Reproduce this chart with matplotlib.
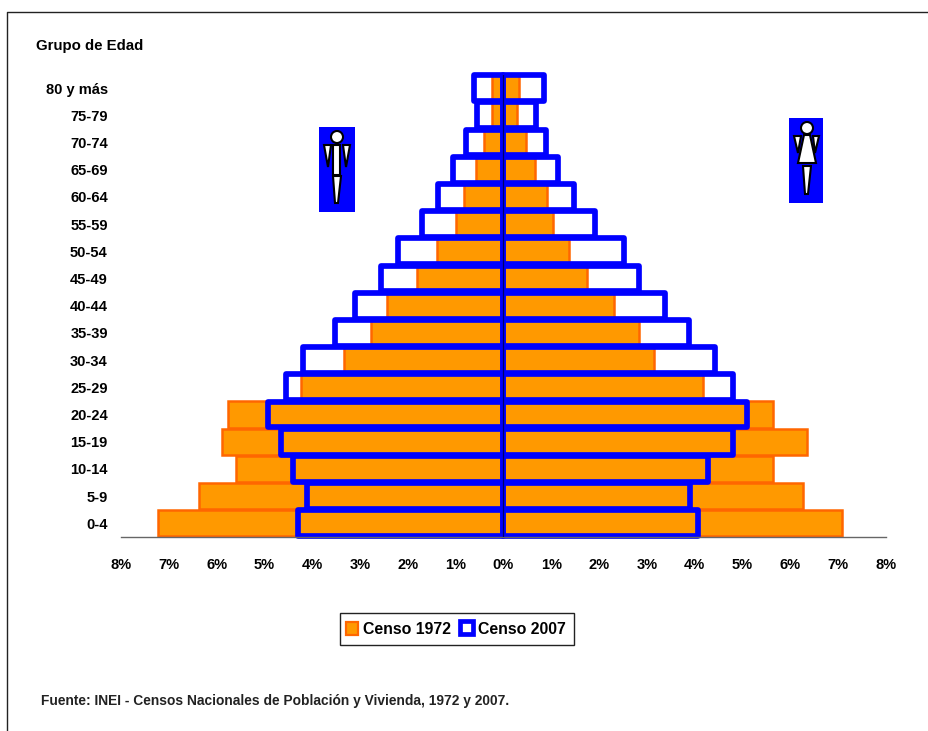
import matplotlib
matplotlib.use("Agg")
import matplotlib.pyplot as plt
from matplotlib.font_manager import fontManager
from matplotlib.patches import Rectangle, Polygon, Circle
from matplotlib.ticker import FuncFormatter

W, H = 929, 731

grupos = ["0-4", "5-9", "10-14", "15-19", "20-24", "25-29", "30-34", "35-39", "40-44",
          "45-49", "50-54", "55-59", "60-64", "65-69", "70-74", "75-79", "80 y más"]
h1972 = [7.23, 6.37, 5.60, 5.89, 5.76, 4.24, 3.34, 2.77, 2.44, 1.81, 1.39, 0.99, 0.83, 0.58, 0.41, 0.24, 0.24]
m1972 = [7.08, 6.26, 5.64, 6.35, 5.64, 4.17, 3.15, 2.83, 2.31, 1.75, 1.37, 1.04, 0.91, 0.66, 0.47, 0.28, 0.32]
h2007 = [4.30, 4.11, 4.40, 4.65, 4.93, 4.55, 4.19, 3.52, 3.11, 2.56, 2.20, 1.70, 1.37, 1.06, 0.78, 0.55, 0.62]
m2007 = [4.07, 3.90, 4.28, 4.80, 5.09, 4.80, 4.42, 3.88, 3.38, 2.83, 2.53, 1.92, 1.48, 1.14, 0.89, 0.68, 0.85]
ticks = [-8, -7, -6, -5, -4, -3, -2, -1, 0, 1, 2, 3, 4, 5, 6, 7, 8]

names = {f.name for f in fontManager.ttflist}
narrow = "Liberation Sans Narrow" in names
plt.rcParams['font.family'] = ['Liberation Sans Narrow' if narrow else 'Liberation Sans', 'DejaVu Sans']
plt.rcParams['font.weight'] = 'bold'
fs = 12.5 if narrow else 10.5

ORANGE, EDGE, BLUE = '#ff9900', '#ff6600', '#0000ff'

fig = plt.figure(figsize=(W / 100, H / 100), dpi=100)

# pixel overlay for frame, icons, legend and notes
bg = fig.add_axes([0, 0, 1, 1])
bg.set_xlim(0, W)
bg.set_ylim(H, 0)
bg.axis('off')
bg.plot([7.5, 7.5, W], [H, 11.5, 11.5], color='#222222', lw=1)

ax = fig.add_axes([121 / W, 1 - 536.8 / H, (886 - 121) / W, (536.8 - 74.6) / H])
y = range(len(grupos))
ax.barh(y, [-v for v in h1972], height=0.96, color=ORANGE, edgecolor=EDGE, linewidth=1.8)
ax.barh(y, m1972, height=0.96, color=ORANGE, edgecolor=EDGE, linewidth=1.8)
for vals in ([-v for v in h2007], m2007):
    bars = ax.barh(y, vals, height=0.95, facecolor='none', edgecolor=BLUE, linewidth=4.1)
    for b in bars:
        b.set_joinstyle('round')
        b.set_clip_on(False)
ax.axvline(0, color='#000066', lw=0.9, zorder=5)

ax.set_xlim(-8, 8)
ax.set_ylim(-0.5, 16.5)
ax.patch.set_visible(False)
for s in ['top', 'left', 'right']:
    ax.spines[s].set_visible(False)
ax.spines['bottom'].set_color('#666666')
ax.spines['bottom'].set_linewidth(1)
ax.set_xticks(ticks)
ax.xaxis.set_major_formatter(FuncFormatter(lambda v, pos: f"{abs(int(v))}%"))
ax.set_yticks(list(y))
ax.set_yticklabels(grupos)
ax.tick_params(axis='x', length=0, pad=15, labelsize=fs)
ax.tick_params(axis='y', length=0, pad=9.5, labelsize=fs)

bg.text(36, 46, "Grupo de Edad", fontsize=fs + 0.3, va='center', ha='left')
bg.text(41, 701, "Fuente: INEI - Censos Nacionales de Población y Vivienda, 1972 y 2007.",
        fontsize=9.9, va='center', ha='left', color='#222222')

# legend box
bg.add_patch(Rectangle((340, 613), 234, 32, fc='white', ec='#222222', lw=1))
bg.add_patch(Rectangle((346, 622), 12, 13, fc=ORANGE, ec=EDGE, lw=1.6))
bg.add_patch(Rectangle((460, 621), 13, 13, fc='white', ec=BLUE, lw=3.4))
bg.text(363, 629, "Censo 1972", fontsize=11.4, va='center', ha='left')
bg.text(478, 629, "Censo 2007", fontsize=11.4, va='center', ha='left')


def poly(pts):
    bg.add_patch(Polygon(pts, closed=True, fc='white', ec='black', lw=1.5, zorder=4))


# male icon
bg.add_patch(Rectangle((319, 127), 36, 85, fc=BLUE, ec='none', zorder=3))
poly([(324, 145), (331, 145), (328, 167)])
poly([(343, 145), (350, 145), (346, 167)])
poly([(333, 145), (340, 145), (340, 175), (333, 175)])
poly([(333, 176), (341, 176), (338, 203), (335, 203)])
bg.add_patch(Circle((337, 137), 6, fc='white', ec='black', lw=1.5, zorder=5))

# female icon
bg.add_patch(Rectangle((789, 118), 34, 85, fc=BLUE, ec='none', zorder=3))
poly([(794, 136), (801, 136), (798, 153)])
poly([(813, 136), (819, 136), (815, 153)])
poly([(804, 135), (810, 135), (816, 163), (798, 163)])
poly([(803, 166), (811, 166), (808, 194), (805, 194)])
bg.add_patch(Circle((807, 128), 6, fc='white', ec='black', lw=1.5, zorder=5))

fig.savefig('out.png', dpi=100)
